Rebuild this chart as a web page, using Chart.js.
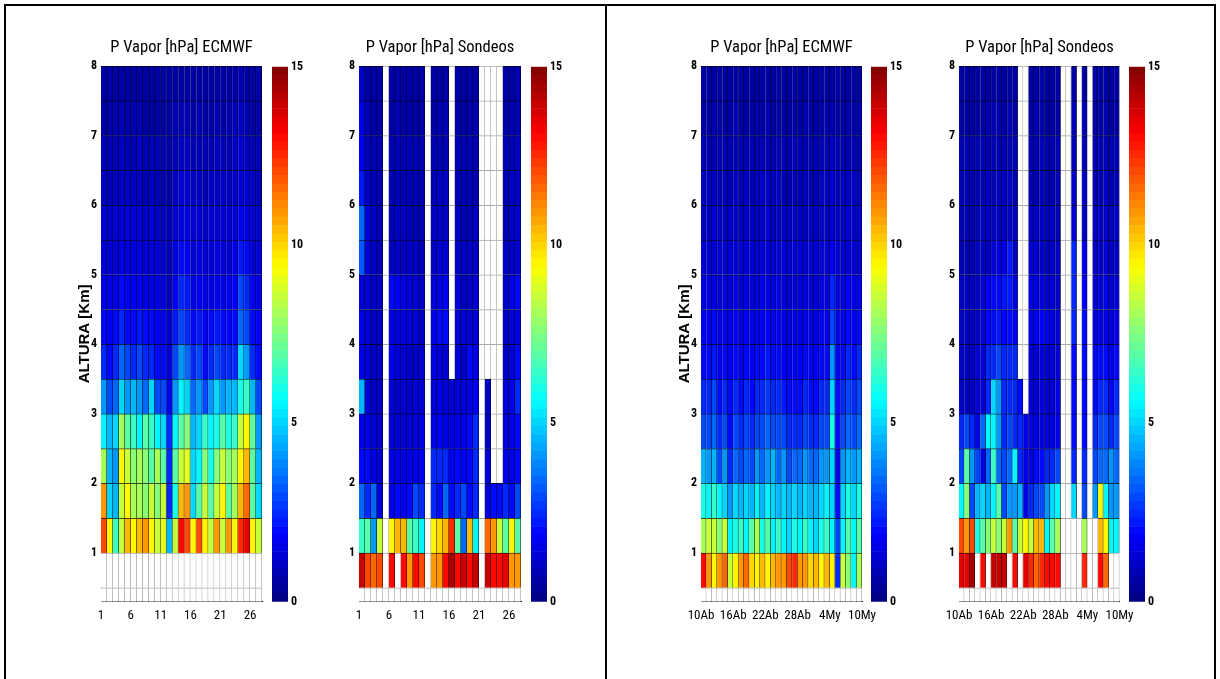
<!DOCTYPE html>
<html><head><meta charset="utf-8">
<script src="https://cdn.jsdelivr.net/npm/chart.js@4.4.1/dist/chart.umd.min.js"></script>
<style>
html,body{margin:0;padding:0;background:#fff;}
body{width:1220px;height:679px;overflow:hidden;position:relative;}
.frame{position:absolute;border:2px solid #000;box-sizing:border-box;}
canvas{position:absolute;}
</style></head><body>
<div class="frame" style="left:4px;top:4px;width:603px;height:720px;"></div>
<div class="frame" style="left:605px;top:4px;width:611px;height:720px;"></div>
<script>
// ---------------- data ----------------
const rowEdges = [0.3, 0.5, 1, 1.5, 2, 2.5, 3, 3.5, 4, 4.5, 5, 5.5, 6, 6.5, 7, 7.5, 8];
const heightTicks = [1, 2, 3, 4, 5, 6, 7, 8];
const colorTicks = [0, 5, 10, 15];
const dayTicks1 = [1, 6, 11, 16, 21, 26];
const dayLabels1 = ['1', '6', '11', '16', '21', '26'];
const dayTicks2 = [0, 6, 12, 18, 24, 30];
const dayLabels2 = ['10Ab', '16Ab', '22Ab', '28Ab', '4My', '10My'];

// rows listed from bottom (0.3-0.5 km) to top (7.5-8 km); null = no data
const ecmwf1 = [
  null,
  null,
  [12, 9.5, 6.5, 8.5, 10.5, 9.5, 10.5, 11, 9.5, 8.5, 9, 4.5, 8.5, 13, 12, 9.5, 12, 9.5, 8.5, 11, 8.5, 11, 9.5, 12.5, 13.5, 9.5, 8.5],
  [11, 5, 4.5, 8.5, 9.5, 8, 8, 7.5, 8.5, 7.5, 8.5, 2.5, 6, 10.5, 11, 5, 7, 8.5, 7, 8.5, 9.5, 7, 8, 10.5, 11.5, 7, 5],
  [8, 4.5, 4, 9.5, 8.5, 7.5, 8, 7.5, 7, 8, 7, 2.5, 7, 8.5, 9, 5, 5.5, 7.5, 6, 7.5, 8.5, 7.5, 8, 9.5, 10.5, 7, 4.5],
  [5.5, 4.5, 5, 8, 7, 6.5, 5.5, 7, 6.5, 5.5, 5, 2.5, 5.5, 7, 7.5, 4.5, 5, 6.5, 5.5, 6, 7, 6, 6.5, 8.5, 9.5, 7, 4],
  [4, 3, 3.5, 5, 4, 4.5, 4, 3.5, 5, 3, 3, 1.5, 4, 5.5, 5, 3.5, 4, 3, 4, 5, 4, 4.5, 4.5, 6, 6.5, 4.5, 3],
  [2.5, 2, 2.5, 3.5, 3, 2.5, 3, 2.5, 2.5, 2, 2, 1.2, 3, 4, 3.5, 2.5, 3, 2, 2.5, 3, 2.5, 2.5, 2.5, 5, 4, 2.5, 2],
  [2, 1.8, 2, 2.5, 2, 2, 2.2, 2, 2, 1.8, 1.8, 1, 2.2, 3, 2.5, 2, 2.2, 1.8, 2, 2.2, 2, 2, 2, 3.5, 3, 2, 1.8],
  [1.6, 1.5, 1.6, 2, 1.7, 1.7, 1.8, 1.6, 1.6, 1.5, 1.5, 0.8, 1.8, 2.5, 2.2, 1.6, 1.8, 1.5, 1.6, 1.8, 1.6, 1.7, 1.7, 3, 2.5, 1.7, 1.5],
  [1.4, 1.3, 1.4, 1.6, 1.4, 1.5, 1.5, 1.3, 1.4, 1.3, 1.2, 0.8, 1.5, 1.9, 1.8, 1.4, 1.5, 1.3, 1.4, 1.5, 1.4, 1.4, 1.5, 2.2, 1.9, 1.4, 1.3],
  [1.2, 1.1, 1.2, 1.4, 1.2, 1.3, 1.3, 1.1, 1.2, 1.1, 1.0, 0.8, 1.2, 1.5, 1.6, 1.2, 1.3, 1.1, 1.2, 1.3, 1.2, 1.2, 1.3, 1.8, 1.6, 1.2, 1.1],
  [1.0, 0.9, 1.0, 1.1, 1.0, 1.1, 1.1, 0.9, 1.0, 0.9, 0.9, 0.7, 1.0, 1.2, 1.3, 1.0, 1.1, 0.9, 1.0, 1.1, 1.0, 1.0, 1.1, 1.4, 1.3, 1.0, 0.9],
  [0.9, 0.8, 0.9, 1.0, 0.9, 0.9, 1.0, 0.8, 0.9, 0.8, 0.8, 0.7, 0.9, 1.0, 1.1, 0.9, 0.9, 0.8, 0.9, 1.0, 0.9, 0.9, 1.0, 1.2, 1.1, 0.9, 0.8],
  [0.7, 0.7, 0.8, 0.8, 0.7, 0.8, 0.8, 0.7, 0.7, 0.7, 0.7, 0.6, 0.8, 0.9, 0.9, 0.7, 0.8, 0.7, 0.7, 0.8, 0.7, 0.8, 0.8, 1.0, 0.9, 0.7, 0.7],
  [0.6, 0.6, 0.6, 0.7, 0.6, 0.6, 0.7, 0.6, 0.6, 0.6, 0.6, 0.5, 0.6, 0.7, 0.7, 0.6, 0.6, 0.6, 0.6, 0.7, 0.6, 0.6, 0.7, 0.8, 0.7, 0.6, 0.6]
];

const sondeos1 = [
  null,
  [14, 12, 11.5, 12, null, 13, null, 13, 11, 13, 12, null, 11, 11, 13, 14.5, 13, 14, 13, 14, null, 14, 13, 13, 13.5, 11, 11],
  [6.5, 7, 4, 8.5, null, 9.5, 10.5, 10.5, 7, 6.5, 5.5, null, 9.5, 10, 10.5, 12.5, 7, 3.5, 10.5, 5.5, null, 11.5, 11, 8.5, 7, 9.5, 7],
  [3.5, 2.5, 3.5, 1.2, null, 1.5, 2, 1.8, 2, 3, 2.5, null, 2.5, 2, 3.5, 2, 2.5, 3, 2, 2.5, null, 1.2, 2, 2, 2.5, 2, 3],
  [2, 2, 1.5, 1.2, null, 1.5, 1.5, 1.5, 1.5, 1.5, 1.8, null, 2.5, 2.5, 2.5, 1.8, 2, 1.8, 2, 2.5, null, 1.2, null, null, 1.5, 1.5, 2],
  [1.5, 1.5, 1.2, 1, null, 1.2, 1.2, 1.3, 1.2, 1.2, 1.5, null, 1.5, 1.8, 1.5, 1.5, 1.5, 1.5, 2, 2.5, null, 1, null, null, 1.2, 1.5, 2],
  [4.5, 1.2, 1, 1, null, 1.2, 1, 1.2, 1, 1.2, 1.2, null, 1.2, 1.5, 1.2, 1.2, 1.3, 1.2, 1.5, 1.8, null, 1, null, null, 1.2, 1.5, 2.5],
  [1.5, 1.2, 1, 1, null, 1.8, 1.2, 1.2, 1, 1, 1.2, null, 1.5, 1.2, 1.2, null, 1.2, 1, 2, 1.5, null, null, null, null, 1, 1.2, 2],
  [1.5, 1.2, 1, 1, null, 1.5, 1.2, 1.5, 1.2, 1.2, 1, null, 1.5, 2, 2, null, 1.2, 1.2, 1.2, 1.2, null, null, null, null, 1, 1.2, 1.5],
  [1.2, 1.3, 1.1, 1, null, 2, 1.8, 1.5, 1.2, 1.2, 1, null, 1.3, 1.5, 1.8, null, 1.2, 1.1, 1.1, 1.2, null, null, null, null, 1.1, 1.5, 2],
  [3.2, 1.2, 1, 0.9, null, 1, 1, 1.1, 1, 1, 0.9, null, 1.1, 1.2, 1.2, null, 1, 1, 1, 1.1, null, null, null, null, 1, 1.1, 1.3],
  [3.5, 1.2, 1, 0.9, null, 0.9, 1, 1, 0.9, 0.9, 0.9, null, 1, 1.1, 1, null, 1, 0.9, 0.9, 1, null, null, null, null, 0.9, 1, 1.2],
  [2.2, 1, 0.9, 0.8, null, 0.9, 0.9, 0.9, 0.9, 0.8, 0.8, null, 0.9, 1, 1, null, 0.9, 0.8, 0.9, 0.9, null, null, null, null, 0.9, 1, 1.1],
  [1.8, 0.9, 0.8, 0.8, null, 0.8, 0.9, 0.8, 0.8, 0.8, 0.8, null, 0.8, 0.9, 0.9, null, 0.8, 0.8, 0.8, 0.9, null, null, null, null, 0.8, 0.9, 1],
  [1.5, 0.8, 0.7, 0.7, null, 0.7, 0.8, 0.7, 0.7, 0.7, 0.7, null, 0.7, 0.8, 0.8, null, 0.7, 0.7, 0.7, 0.8, null, null, null, null, 0.7, 0.8, 0.9],
  [1, 0.7, 0.6, 0.6, null, 0.6, 0.7, 0.6, 0.6, 0.6, 0.6, null, 0.6, 0.7, 0.7, null, 0.6, 0.6, 0.6, 0.7, null, null, null, null, 0.6, 0.7, 0.8]
];

const ecmwf2 = [
  null,
  [13, 11, 9.5, 11, 11.5, 8.5, 9.5, 11, 11.5, 10, 9.5, 10.5, 9.5, 10.5, 11, 11, 12, 12.5, 11, 11, 10, 10.5, 9.5, 10.5, 9.5, 2.5, 8.5, 7.5, 5.5, 8],
  [8, 8.5, 8.5, 7.5, 8.5, 5.5, 6, 6.5, 5.5, 7, 8, 6, 7, 5.5, 6.5, 5.5, 5, 6, 5.5, 6.5, 5.5, 5, 6, 6.5, 5.5, 3, 5.5, 7, 5.5, 7],
  [6, 5.5, 6.5, 5.5, 5, 4, 5, 4.5, 5, 4.5, 5.5, 4.5, 5.5, 5, 4.5, 5, 4.5, 5, 4.5, 5, 4.5, 4.5, 5, 5.5, 5, 2, 5, 6, 5, 6],
  [4.5, 4, 4.5, 3, 4, 2.5, 3.5, 3, 3.5, 3, 4, 3.5, 4, 4.5, 3.5, 4, 3, 3.5, 3.5, 4, 3.5, 3.5, 4, 4, 5, 1.5, 4, 4.5, 4, 4.5],
  [3, 3, 3.5, 2.5, 3, 2, 3, 2.5, 3, 2.5, 3, 3, 3.5, 3, 3, 3, 2.5, 2.5, 2.5, 3, 2.5, 2.5, 3, 3, 6, 2, 3, 3.5, 3, 3.5],
  [2.5, 2.5, 3, 2, 2.5, 2, 2.5, 2, 2.5, 2, 2.5, 2.5, 2.8, 2.5, 2.5, 2.3, 2, 2, 2, 2.5, 2, 2, 2.5, 2.5, 5, 2, 2.5, 3, 2.5, 3],
  [2, 2, 2.3, 1.8, 2, 1.8, 2, 1.8, 2, 1.8, 2, 2, 2.2, 2, 2, 1.8, 1.8, 1.7, 1.8, 2, 1.8, 1.8, 2, 2, 4, 1.8, 2, 2.5, 2, 2.5],
  [1.7, 1.7, 1.9, 1.6, 1.7, 1.6, 1.7, 1.6, 1.7, 1.6, 1.7, 1.7, 1.8, 1.7, 1.7, 1.6, 1.6, 1.5, 1.6, 1.7, 1.6, 1.6, 1.7, 1.7, 3, 1.6, 1.7, 2, 1.7, 2],
  [1.5, 1.5, 1.6, 1.4, 1.5, 1.4, 1.5, 1.4, 1.5, 1.4, 1.5, 1.5, 1.6, 1.5, 1.5, 1.4, 1.4, 1.3, 1.4, 1.5, 1.4, 1.4, 1.5, 1.5, 2.5, 1.4, 1.5, 1.7, 1.5, 1.7],
  [1.3, 1.3, 1.4, 1.2, 1.3, 1.2, 1.3, 1.2, 1.3, 1.2, 1.3, 1.3, 1.4, 1.3, 1.3, 1.2, 1.2, 1.2, 1.2, 1.3, 1.2, 1.2, 1.3, 1.3, 1.8, 1.2, 1.3, 1.4, 1.3, 1.4],
  [1.1, 1.1, 1.2, 1.0, 1.1, 1.0, 1.1, 1.0, 1.1, 1.0, 1.1, 1.1, 1.2, 1.1, 1.1, 1.0, 1.0, 1.0, 1.0, 1.1, 1.0, 1.0, 1.1, 1.1, 1.4, 1.0, 1.1, 1.2, 1.1, 1.2],
  [1.0, 1.0, 1.0, 0.9, 1.0, 0.9, 1.0, 0.9, 1.0, 0.9, 1.0, 1.0, 1.0, 1.0, 1.0, 0.9, 0.9, 0.9, 0.9, 1.0, 0.9, 0.9, 1.0, 1.0, 1.2, 0.9, 1.0, 1.0, 1.0, 1.0],
  [0.9, 0.8, 0.9, 0.8, 0.9, 0.8, 0.9, 0.8, 0.9, 0.8, 0.9, 0.9, 0.9, 0.9, 0.8, 0.8, 0.8, 0.8, 0.8, 0.9, 0.8, 0.8, 0.9, 0.9, 1.0, 0.8, 0.9, 0.9, 0.9, 0.9],
  [0.7, 0.7, 0.8, 0.7, 0.7, 0.7, 0.8, 0.7, 0.7, 0.7, 0.8, 0.7, 0.8, 0.7, 0.7, 0.7, 0.7, 0.7, 0.7, 0.8, 0.7, 0.7, 0.7, 0.8, 0.9, 0.7, 0.7, 0.8, 0.7, 0.8],
  [0.6, 0.6, 0.7, 0.6, 0.6, 0.6, 0.6, 0.6, 0.6, 0.6, 0.7, 0.6, 0.7, 0.6, 0.6, 0.6, 0.6, 0.6, 0.6, 0.7, 0.6, 0.6, 0.6, 0.7, 0.7, 0.6, 0.6, 0.7, 0.6, 0.7]
];

const sondeos2 = [
  null,
  [13.5, 13.5, 14.5, null, 13, null, 14, 14, 14, null, 13, null, 13.5, 12.5, 11.5, 12.5, 13, 13, 13, null, null, null, null, 12.5, null, null, 13, 11.5, null, null],
  [12, 11, 12, 6, 7, 7.5, 8.5, 7.5, 8.5, 11, 7, 8.5, 9.5, 8.5, 10.5, 10.5, 5.5, 7, 8, null, null, null, null, 8, null, null, 10.5, 9.5, 5.5, 5.5],
  [5.5, 7.5, 3, 4.5, 5, 4.5, 5.5, 7, 3, 4, 4, 4.5, 1.5, 2.5, 3, 3, 4, 5, 5.5, null, null, 5, null, 3, null, 4, 9.5, 5.5, 4, 4],
  [3, 7, 4, 3, 1.5, 3.5, 6.5, 3.5, 3, 3.5, 5.5, 2.5, 1.5, 1.5, 2, 2, 2.5, 2.5, 3, null, null, 2.5, null, 2.5, null, 3, 3.5, 3.5, 4, 3.5],
  [2.5, 3, 2.5, 1.5, 3.5, 5.5, 5.5, 4, 2.5, 3, 2.5, 2.5, 1.5, 1.5, 1.5, 1.2, 1.5, 1.5, 1.5, null, null, 2, null, 2, null, 2.5, 3, 3, 2.5, 3],
  [1, 1, 1, 1.2, 1.2, 2.5, 5, 4, 2.5, 2.5, 2.5, 2, null, 1.2, 1.2, 1.2, 1.2, 1.2, 1.5, null, null, 2, null, 2, null, 2, 2.5, 2.5, 2, 2.5],
  [1, 1, 1, 1.2, 1.2, 2.5, 2.5, 3, 2.5, 2.5, 2.5, null, null, 1.2, 1.2, 1.2, 1.2, 1.2, 1.2, null, null, 2, null, 2, null, 2, 2, 2, 1.8, 2],
  [1, 1, 1, 1.1, 1.2, 2, 2, 2.2, 2, 2, 1.8, null, null, 1.5, 1.8, 1.8, 1.8, 1.5, 1.2, null, null, 2.5, null, 2, null, 1.5, 1.5, 1.5, 1.5, 1.5],
  [1, 1, 1, 1, 1.2, 1.8, 2, 2, 2.2, 2.2, 1.5, null, null, 1.5, 1.5, 1.3, 1.3, 1.2, 1.1, null, null, 2.5, null, 1.8, null, 1.3, 1.3, 1.5, 1.3, 1.3],
  [0.9, 0.9, 0.9, 1, 1, 1.1, 1.2, 1.5, 1.5, 2.2, 1, null, null, 1.2, 1.2, 1.1, 1.1, 1.1, 1, null, null, 2.5, null, 1.5, null, 1.1, 1.1, 1.2, 1.1, 1.1],
  [0.9, 0.9, 0.9, 0.9, 1, 1, 1, 1.1, 1.1, 1.1, 1, null, null, 1, 1, 1, 1, 1, 0.9, null, null, 1.2, null, 1.1, null, 1, 1, 1.1, 1, 1],
  [0.8, 0.8, 0.8, 0.9, 0.9, 1, 0.9, 1, 1, 1, 0.9, null, null, 0.9, 0.9, 0.9, 0.9, 0.9, 0.8, null, null, 1, null, 1, null, 0.9, 0.9, 1, 0.9, 0.9],
  [0.8, 0.8, 0.8, 0.8, 0.8, 0.9, 0.9, 0.9, 0.8, 0.9, 0.8, null, null, 0.8, 0.9, 0.8, 0.8, 0.8, 0.8, null, null, 0.9, null, 0.9, null, 0.8, 0.8, 0.9, 0.8, 0.8],
  [0.7, 0.7, 0.7, 0.7, 0.7, 0.8, 0.8, 0.8, 0.7, 0.8, 0.7, null, null, 0.7, 0.8, 0.7, 0.7, 0.7, 0.7, null, null, 0.8, null, 0.8, null, 0.7, 0.7, 0.8, 0.7, 0.7],
  [0.6, 0.6, 0.6, 0.6, 0.6, 0.7, 0.7, 0.7, 0.6, 0.7, 0.6, null, null, 0.6, 0.7, 0.6, 0.6, 0.6, 0.6, null, null, 0.7, null, 0.7, null, 0.6, 0.6, 0.7, 0.6, 0.6]
];

// ---------------- rendering ----------------
const NARROW = '"Roboto Condensed", "DejaVu Sans Condensed", sans-serif';
const VMAX = 15, NLEV = 64;

function jet(v) {
  const t = Math.min(0.99999, Math.max(0, v / VMAX));
  const s = (Math.floor(t * NLEV) + 0.5) / NLEV;
  const c = x => Math.min(1, Math.max(0, 1.5 - Math.abs(4 * s - x)));
  return [c(3), c(2), c(1)];
}
const rgb = (a, f = 1) => `rgb(${Math.round(a[0] * 255 * f)},${Math.round(a[1] * 255 * f)},${Math.round(a[2] * 255 * f)})`;

const panels = [
  {title: 'P Vapor [hPa] ECMWF',   rows: ecmwf1,   x0: 1, x1: 28, ticks: dayTicks1, labels: dayLabels1, left: 101,   right: 262,   cb: 272,    ylabel: true},
  {title: 'P Vapor [hPa] Sondeos', rows: sondeos1, x0: 1, x1: 28, ticks: dayTicks1, labels: dayLabels1, left: 359,   right: 521,   cb: 531,    ylabel: false},
  {title: 'P Vapor [hPa] ECMWF',   rows: ecmwf2,   x0: 0, x1: 30, ticks: dayTicks2, labels: dayLabels2, left: 701,   right: 862,   cb: 871,    ylabel: true},
  {title: 'P Vapor [hPa] Sondeos', rows: sondeos2, x0: 0, x1: 30, ticks: dayTicks2, labels: dayLabels2, left: 958.5, right: 1119,  cb: 1128.5, ylabel: false}
];

function makeCanvas(left, top, w, h) {
  const c = document.createElement('canvas');
  c.width = Math.round(w); c.height = Math.round(h);
  c.style.left = left + 'px'; c.style.top = top + 'px';
  c.style.width = Math.round(w) + 'px'; c.style.height = Math.round(h) + 'px';
  document.body.appendChild(c);
  return c.getContext('2d');
}

const AXW = 25;
panels.forEach(p => {
  const ncol = p.x1 - p.x0;
  const datasets = p.rows.map((row, r) => {
    const vals = row || new Array(ncol).fill(null);
    return {
      data: vals.map((v, i) => ({x: p.x0 + i + 0.5, y: [rowEdges[r], rowEdges[r + 1]]})),
      backgroundColor: vals.map(v => v == null ? '#ffffff' : rgb(jet(v))),
      borderColor: vals.map(v => v == null ? '#a9a9a9' : rgb(jet(v), 0.3)),
      borderWidth: {top: 1, right: 1, bottom: 0, left: 0},
      borderSkipped: false,
      grouped: false,
      barPercentage: 1,
      categoryPercentage: 1
    };
  });
  const plotW = p.right - p.left;
  const cw = plotW + 2 * AXW;
  const ctx = makeCanvas(p.left - AXW, 30, cw, 600);
  const rw = Math.round(cw) - AXW - plotW;
  new Chart(ctx, {
    type: 'bar',
    data: {datasets},
    options: {
      responsive: false, animation: false, devicePixelRatio: 1,
      layout: {padding: {top: 8.3, bottom: 0, left: 0, right: 0}},
      plugins: {
        legend: {display: false}, tooltip: {enabled: false},
        title: {display: true, text: p.title, color: '#000',
          font: {family: NARROW, size: 16.5, weight: 'normal'}, padding: {top: 0, bottom: 8}}
      },
      scales: {
        x: {
          type: 'linear', min: p.x0, max: p.x1, offset: false, z: 1,
          grid: {display: false, drawTicks: false, tickLength: 0},
          border: {display: true, color: '#000', width: 1},
          afterBuildTicks: ax => { ax.ticks = p.ticks.map(v => ({value: v})); },
          afterFit: ax => { ax.height = 28.3; },
          ticks: {autoSkip: false, maxRotation: 0, padding: 6, color: '#000',
            font: {family: NARROW, size: 13},
            callback: (v, i) => p.labels[i]}
        },
        y: {
          type: 'linear', min: rowEdges[0], max: rowEdges[rowEdges.length - 1], z: 1,
          grid: {display: false, drawTicks: false, tickLength: 0},
          border: {display: true, color: '#000', width: 1},
          afterBuildTicks: ax => { ax.ticks = heightTicks.map(v => ({value: v})); },
          afterFit: ax => { ax.width = AXW; },
          ticks: {autoSkip: false, padding: 4, color: '#000',
            font: {family: NARROW, size: 12, weight: 'bold'},
            callback: v => String(v)},
          title: {display: p.ylabel, text: 'ALTURA [Km]', color: '#000',
            font: {family: '"Liberation Sans", Arial, sans-serif', size: 15, weight: 'bold'},
            padding: {top: 0, bottom: 0}}
        },
        yRight: {
          type: 'linear', position: 'right', min: 0, max: 1,
          grid: {display: false, drawTicks: false, tickLength: 0},
          border: {display: false},
          ticks: {display: false},
          afterFit: ax => { ax.width = rw; }
        }
      }
    }
  });

  // colour bar
  const levels = [];
  for (let k = 0; k < NLEV; k++) levels.push(k);
  const cbSets = levels.map(k => ({
    data: [[k * VMAX / NLEV, (k + 1) * VMAX / NLEV]],
    backgroundColor: rgb(jet((k + 0.5) * VMAX / NLEV)),
    borderWidth: 0, grouped: false, barPercentage: 1, categoryPercentage: 1
  }));
  const cctx = makeCanvas(p.cb, 50, 16 + AXW, 570);
  new Chart(cctx, {
    type: 'bar',
    data: {labels: [''], datasets: cbSets},
    options: {
      responsive: false, animation: false, devicePixelRatio: 1,
      layout: {padding: {top: 16.7, bottom: 18.3, left: 0, right: 0}},
      plugins: {legend: {display: false}, tooltip: {enabled: false}},
      scales: {
        x: {display: false},
        y: {
          position: 'right', min: 0, max: VMAX,
          grid: {display: false, drawTicks: false, tickLength: 0}, border: {display: false},
          afterBuildTicks: ax => { ax.ticks = colorTicks.map(v => ({value: v})); },
          afterFit: ax => { ax.width = AXW; },
          ticks: {padding: 3, color: '#000', font: {family: NARROW, size: 12, weight: 'bold'},
            callback: v => String(v)}
        }
      }
    }
  });
});
</script>
</body></html>
